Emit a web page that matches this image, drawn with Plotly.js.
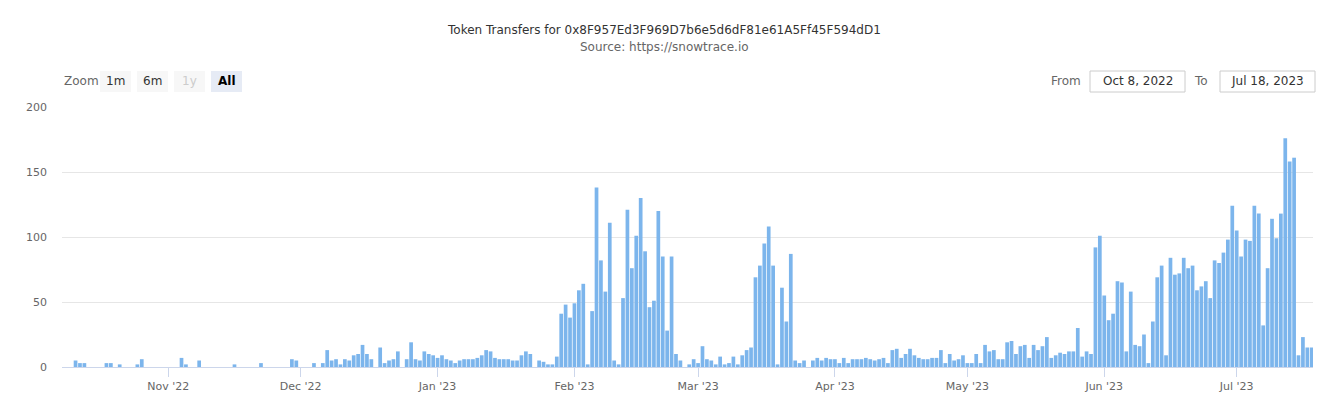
<!DOCTYPE html>
<html><head><meta charset="utf-8">
<script src="https://cdn.plot.ly/plotly-3.0.1.min.js"></script>
<style>html,body{margin:0;padding:0;background:#fff;} #chart{width:1328px;height:405px;}</style>
</head><body><div id="chart"></div>
<script>
// Daily token transfer counts, one value per day, starting at each month's first listed day
const oct2022 = [0,0,0,5,3,3,0,0,0,0,3,3,0,2,0,0,0,2,6,0,0,0,0,0];
const nov2022 = [0,0,0,7,2,0,0,5,0,0,0,0,0,0,0,2,0,0,0,0,0,3,0,0,0,0,0,0,6,5];
const dec2022 = [0,0,0,3,0,3,13,5,6,2,6,5,9,10,17,10,6,0,15,3,5,6,12,0,6,19,6,5,12,10,9];
const jan2023 = [7,9,6,5,3,5,6,6,6,7,9,13,12,7,6,6,6,5,5,9,12,10,0,5,4,2,2,8,41,48,38];
const feb2023 = [49,59,64,2,43,138,82,58,111,5,2,53,121,76,101,130,89,46,51,120,85,28,85,10,5,0,2,6];
const mar2023 = [3,16,6,5,2,8,2,3,8,2,9,13,15,69,78,95,108,78,2,61,35,87,5,3,5,0,5,7,5,7,6];
const apr2023 = [6,3,7,3,6,6,6,7,6,5,6,7,3,13,14,7,10,14,9,7,6,6,7,7,13,3,10,5,6,9];
const may2023 = [3,3,10,3,17,12,13,6,6,19,20,10,16,17,7,17,13,16,23,7,9,11,10,12,12,30,8,12,10,92,101];
const jun2023 = [55,36,41,66,65,12,58,17,16,25,3,35,69,78,9,84,71,72,84,76,78,59,62,66,53,82,80,88,98,124];
const jul2023 = [105,85,98,97,124,118,32,76,114,99,118,176,158,161,9,23,15,15];

const monthStarts = ['2022-10-08','2022-11-01','2022-12-01','2023-01-01','2023-02-01','2023-03-01','2023-04-01','2023-05-01','2023-06-01','2023-07-01'];
const monthValues = [oct2022,nov2022,dec2022,jan2023,feb2023,mar2023,apr2023,may2023,jun2023,jul2023];

const tickDates = ['2022-11-01','2022-12-01','2023-01-01','2023-02-01','2023-03-01','2023-04-01','2023-05-01','2023-06-01','2023-07-01'];
const tickLabels = ["Nov '22","Dec '22","Jan '23","Feb '23","Mar '23","Apr '23","May '23","Jun '23","Jul '23"];
const yTicks = [0,50,100,150,200];

const titleText = 'Token Transfers for 0x8F957Ed3F969D7b6e5d6dF81e61A5Ff45F594dD1';
const subtitleText = 'Source: https://snowtrace.io';
const rangeButtons = ['1m','6m','1y','All'];
const fromText = 'Oct 8, 2022';
const toText = 'Jul 18, 2023';

const dates = [], counts = [];
monthStarts.forEach((s, i) => {
  const [Y, M, D] = s.split('-').map(Number);
  monthValues[i].forEach((v, j) => {
    const dt = new Date(Date.UTC(Y, M - 1, D + j));
    dates.push(dt.toISOString().slice(0, 10));
    counts.push(v);
  });
});

const FONT = 'DejaVu Sans';
const L = 62, R = 1313, T = 107, B = 367;
const px = x => (x - L) / (R - L);
const py = y => (B - y) / (B - T);

const shapes = [];
const annotations = [];
function ann(text, x, y, o) {
  annotations.push(Object.assign({text, x: px(x), y: py(y), xref: 'paper', yref: 'paper',
    showarrow: false, xanchor: 'center', yanchor: 'middle',
    font: {family: FONT, size: 12, color: '#333'}}, o || {}));
}
function box(x0, y0, x1, y1, fill, line) {
  shapes.push({type: 'rect', xref: 'paper', yref: 'paper', x0: px(x0), x1: px(x1), y0: py(y1), y1: py(y0),
    fillcolor: fill, line: {color: line || fill, width: line ? 1 : 0}, layer: 'above'});
}

ann(titleText, 664, 30, {font: {family: FONT, size: 12, color: '#333'}});
ann(subtitleText, 664, 47, {font: {family: FONT, size: 12, color: '#666'}});

ann('Zoom', 62, 81, {xanchor: 'left', font: {family: FONT, size: 12, color: '#666'}});
const btnX = [100, 137, 174, 211];
rangeButtons.forEach((b, i) => {
  const sel = b === 'All', dis = b === '1y';
  box(btnX[i], 71, btnX[i] + 31, 92, sel ? '#e6ebf5' : '#f7f7f7');
  ann(sel ? '<b>' + b + '</b>' : b, btnX[i] + 15.5, 81.5,
    {font: {family: FONT, size: 12, color: dis ? '#cccccc' : (sel ? '#000' : '#333')}});
});
ann('From', 1083, 81, {xanchor: 'right', font: {family: FONT, size: 12, color: '#666'}});
box(1090, 71, 1185, 92, 'rgba(0,0,0,0)', '#cccccc');
ann(fromText, 1137.5, 81.5, {font: {family: FONT, size: 12, color: '#333'}});
ann('To', 1210, 81, {xanchor: 'right', font: {family: FONT, size: 12, color: '#666'}});
box(1220, 71, 1315, 92, 'rgba(0,0,0,0)', '#cccccc');
ann(toText, 1267.5, 81.5, {font: {family: FONT, size: 12, color: '#333'}});

const trace = {
  type: 'bar', x: dates, y: counts,
  marker: {color: '#7cb5ec', line: {width: 0}},
  hoverinfo: 'x+y'
};

const layout = {
  width: 1328, height: 405,
  margin: {l: L, r: 1328 - R, t: T, b: 405 - B, pad: 0},
  paper_bgcolor: '#ffffff', plot_bgcolor: '#ffffff',
  font: {family: FONT, size: 11, color: '#666'},
  showlegend: false, bargap: 0.16,
  xaxis: {type: 'date', range: ['2022-10-07 22:20', '2023-07-18 06:45'],
    tickmode: 'array', tickvals: tickDates, ticktext: tickLabels,
    ticks: 'outside', ticklen: 9, tickcolor: '#ccd6eb', tickwidth: 1,
    showline: true, linecolor: '#ccd6eb', linewidth: 1,
    showgrid: false, zeroline: false,
    tickfont: {family: FONT, size: 11, color: '#666'}},
  yaxis: {range: [0, 200], tickmode: 'array', tickvals: yTicks,
    showgrid: true, gridcolor: '#e6e6e6', gridwidth: 1,
    zeroline: false, showline: false, ticks: '',
    ticklabelstandoff: 14,
    tickfont: {family: FONT, size: 11, color: '#666'}},
  shapes, annotations
};

Plotly.newPlot('chart', [trace], layout, {displayModeBar: false, staticPlot: true});
</script>
</body></html>
